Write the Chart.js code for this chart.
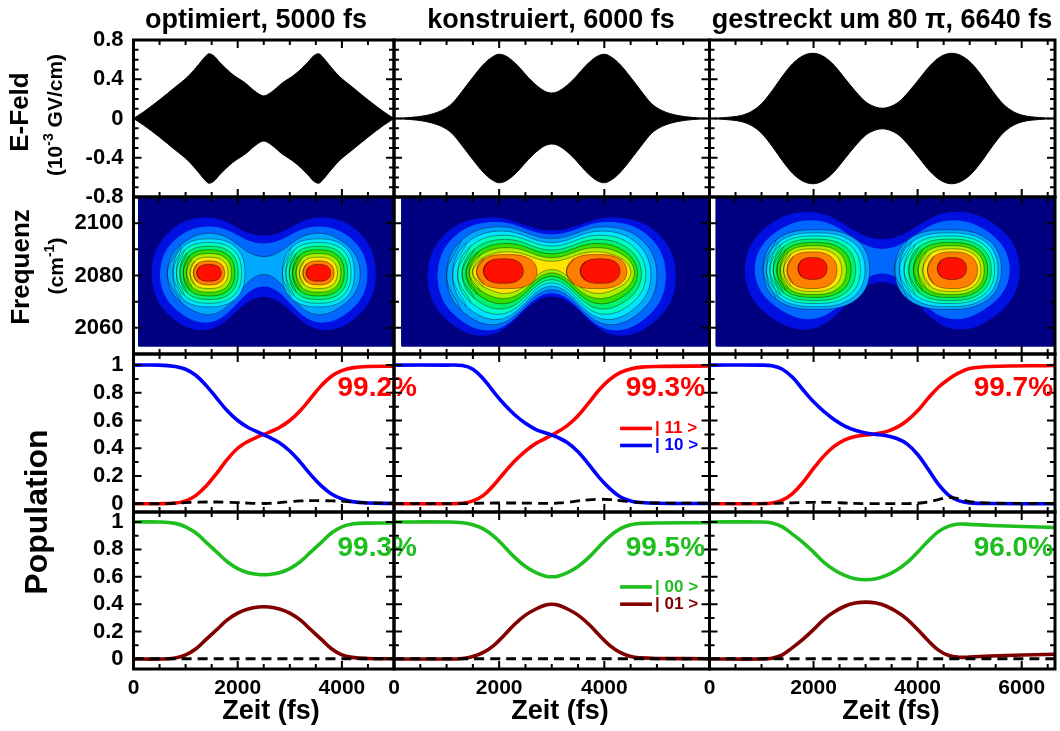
<!DOCTYPE html>
<html>
<head>
<meta charset="utf-8">
<script src="https://cdn.jsdelivr.net/npm/chart.js@4.4.1/dist/chart.umd.min.js"></script>
<style>
  body { margin: 0; background: #fff; }
  #wrap { position: relative; width: 1060px; height: 731px; }
  #wrap canvas { position: absolute; left: 0; top: 0; }
</style>
</head>
<body>
<div id="wrap"></div>
<script>
const FONT = "'Liberation Sans', Arial, Helvetica, sans-serif";
const W = 1060, H = 731;

// ---- data ----
const tMax = [5000, 6000, 6640];
const columnTitles = ['optimiert, 5000 fs', 'konstruiert, 6000 fs', 'gestreckt um 80 \u03c0, 6640 fs'];

// E-field envelope (10^-3 GV/cm)
const fieldT1 = [0, 200, 500, 800, 1050, 1250, 1350, 1450, 1550, 1650, 1900, 2150, 2350, 2500, 2650, 2850, 3100, 3350, 3450, 3550, 3650, 3750, 3950, 4200, 4500, 4800, 5000];
const fieldA1 = [0, 0.07, 0.19, 0.32, 0.43, 0.55, 0.615, 0.66, 0.635, 0.575, 0.45, 0.36, 0.27, 0.23, 0.27, 0.36, 0.45, 0.575, 0.635, 0.66, 0.615, 0.55, 0.43, 0.32, 0.19, 0.07, 0];
const fieldT2 = [0, 300, 600, 900, 1100, 1300, 1500, 1700, 1850, 2000, 2150, 2350, 2550, 2750, 2900, 3000, 3100, 3250, 3450, 3650, 3850, 4000, 4150, 4300, 4500, 4700, 4900, 5100, 5400, 5700, 6000];
const fieldA2 = [0, 0.01, 0.03, 0.08, 0.15, 0.28, 0.42, 0.55, 0.62, 0.655, 0.63, 0.54, 0.42, 0.32, 0.27, 0.26, 0.27, 0.32, 0.42, 0.54, 0.63, 0.655, 0.62, 0.55, 0.42, 0.28, 0.15, 0.08, 0.03, 0.01, 0];
const fieldT3 = [0, 300, 600, 800, 1000, 1200, 1400, 1600, 1800, 1990, 2200, 2400, 2600, 2800, 3000, 3200, 3320, 3440, 3640, 3840, 4040, 4240, 4440, 4650, 4840, 5040, 5240, 5440, 5640, 5840, 6040, 6340, 6640];
const fieldA3 = [0, 0.01, 0.03, 0.07, 0.15, 0.28, 0.43, 0.56, 0.64, 0.665, 0.63, 0.54, 0.41, 0.28, 0.17, 0.115, 0.105, 0.115, 0.17, 0.28, 0.41, 0.54, 0.63, 0.665, 0.64, 0.56, 0.43, 0.28, 0.15, 0.07, 0.03, 0.01, 0];

// spectrogram contour levels, outermost first
// joined rings: [tLeft, tRight, fLow, fHigh, waistLow, waistHigh]
// lobe rings:   [tLeft, tRight, fLow, fHigh]
const specStart = [100, 150, 130];
const specFreqLow = 2053, specFreqHigh = 2110;
const specWaist = [2500, 3000, 3320];
const specJoined1 = [[360, 4640, 2059.5, 2102, 2072, 2095], [520, 4480, 2062.5, 2098.5, 2076, 2092], [650, 4350, 2065.5, 2096, 2080.4, 2087.2]];
const specLeft1 = [[760, 2140, 2068, 2094], [825, 2075, 2069.4, 2092.6], [890, 2010, 2070.8, 2091.2], [955, 1945, 2072.2, 2089.8],
                   [1020, 1880, 2073.6, 2088.4], [1085, 1815, 2075, 2087], [1150, 1750, 2076.4, 2085.6], [1215, 1685, 2077.8, 2084.2]];
const specRight1 = [[2860, 4240, 2068, 2094], [2925, 4175, 2069.4, 2092.6], [2990, 4110, 2070.8, 2091.2], [3055, 4045, 2072.2, 2089.8],
                    [3120, 3980, 2073.6, 2088.4], [3185, 3915, 2075, 2087], [3250, 3850, 2076.4, 2085.6], [3315, 3785, 2077.8, 2084.2]];
const specJoined2 = [[650, 5350, 2057.5, 2102, 2072.1, 2097], [840, 5160, 2059.5, 2100.3, 2073.4, 2095.5], [1000, 5000, 2061.5, 2098.6, 2074.6, 2094.1],
                     [1115, 4885, 2063.5, 2097, 2075.9, 2092.6], [1210, 4790, 2065.5, 2095.4, 2077.2, 2091.2], [1295, 4705, 2067.5, 2093.8, 2078.4, 2089.7],
                     [1370, 4630, 2069.5, 2092.2, 2079.7, 2088.3], [1430, 4570, 2071.5, 2090.6, 2081, 2086.8], [1495, 4505, 2073.5, 2089, 2082.3, 2085.4]];
const specLeft2 = [[1570, 2720, 2075, 2088], [1700, 2460, 2077, 2086.4]];
const specRight2 = [[3280, 4430, 2075, 2088], [3540, 4300, 2077, 2086.4]];
const specJoined3 = [[690, 5950, 2060, 2104, 2077.7, 2093.7], [880, 5760, 2064, 2100.7, 2081, 2090]];
const specLeft3 = [[1030, 3080, 2067, 2097.5], [1095, 2990, 2068.1, 2096.3], [1160, 2900, 2069.3, 2095.1], [1225, 2810, 2070.4, 2093.9],
                   [1295, 2720, 2071.6, 2092.6], [1360, 2630, 2072.7, 2091.4], [1425, 2540, 2073.9, 2090.2], [1490, 2450, 2075, 2089], [1700, 2260, 2078.5, 2086.9]];
const specRight3 = [[3560, 5610, 2067, 2097.5], [3650, 5545, 2068.1, 2096.3], [3740, 5480, 2069.3, 2095.1], [3830, 5415, 2070.4, 2093.9],
                    [3920, 5345, 2071.6, 2092.6], [4010, 5280, 2072.7, 2091.4], [4100, 5215, 2073.9, 2090.2], [4190, 5150, 2075, 2089], [4380, 4940, 2078.5, 2086.9]];
const levelColors = ['#000080', '#0010e0', '#0068ff', '#00a8ff', '#00e4ff', '#00ffc0', '#00f070', '#30e000', '#a8f000', '#ffe400', '#ff8000', '#ff1000'];

// populations, initial state |10>
const popT1 = [0, 500, 800, 1000, 1200, 1400, 1600, 1800, 2000, 2200, 2400, 2600, 2800, 3000, 3200, 3400, 3600, 3800, 4000, 4200, 4500, 5000];
const pop11_1 = [0, 0, 0.005, 0.02, 0.06, 0.13, 0.22, 0.32, 0.40, 0.45, 0.485, 0.515, 0.55, 0.60, 0.67, 0.76, 0.85, 0.92, 0.96, 0.98, 0.99, 0.992];
const pop10_1 = [1, 1, 0.99, 0.97, 0.925, 0.85, 0.76, 0.67, 0.6, 0.55, 0.515, 0.48, 0.44, 0.38, 0.3, 0.21, 0.13, 0.07, 0.035, 0.015, 0.005, 0.001];
const leakA_1 = [0, 0, 0.003, 0.008, 0.01, 0.012, 0.012, 0.01, 0.008, 0.004, 0.002, 0.002, 0.008, 0.015, 0.02, 0.022, 0.022, 0.02, 0.018, 0.012, 0.006, 0.003];
const popT2 = [0, 1000, 1300, 1500, 1700, 1900, 2100, 2300, 2500, 2700, 2900, 3000, 3100, 3300, 3500, 3700, 3900, 4100, 4300, 4500, 4700, 5000, 6000];
const pop11_2 = [0, 0, 0.003, 0.02, 0.06, 0.135, 0.225, 0.31, 0.38, 0.435, 0.475, 0.495, 0.515, 0.565, 0.635, 0.725, 0.82, 0.895, 0.945, 0.972, 0.985, 0.99, 0.993];
const pop10_2 = [1, 1, 0.997, 0.97, 0.9, 0.805, 0.715, 0.64, 0.58, 0.535, 0.508, 0.495, 0.48, 0.44, 0.375, 0.285, 0.19, 0.11, 0.05, 0.02, 0.008, 0.003, 0.001];
const leakA_2 = [0, 0, 0, 0.002, 0.004, 0.005, 0.005, 0.005, 0.004, 0.003, 0.002, 0.002, 0.004, 0.01, 0.02, 0.028, 0.032, 0.03, 0.022, 0.013, 0.008, 0.005, 0.004];
const popT3 = [0, 1000, 1200, 1400, 1600, 1800, 2000, 2200, 2400, 2600, 2800, 3000, 3200, 3400, 3600, 3800, 4000, 4200, 4400, 4600, 4800, 5000, 5400, 6640];
const pop11_3 = [0, 0, 0.005, 0.025, 0.075, 0.155, 0.255, 0.345, 0.415, 0.46, 0.485, 0.495, 0.505, 0.52, 0.55, 0.6, 0.67, 0.76, 0.84, 0.9, 0.945, 0.975, 0.99, 0.997];
const pop10_3 = [1, 1, 0.995, 0.97, 0.91, 0.82, 0.735, 0.665, 0.605, 0.56, 0.53, 0.51, 0.5, 0.49, 0.47, 0.43, 0.355, 0.25, 0.14, 0.06, 0.02, 0.006, 0.001, 0];
const leakA_3 = [0, 0, 0.002, 0.004, 0.006, 0.008, 0.01, 0.01, 0.008, 0.005, 0.002, 0.001, 0.001, 0.001, 0.001, 0.001, 0.003, 0.012, 0.03, 0.045, 0.035, 0.015, 0.004, 0.002];

// populations, initial state |00>
const pop00_1 = [1, 1, 0.99, 0.965, 0.92, 0.85, 0.78, 0.71, 0.66, 0.63, 0.617, 0.617, 0.63, 0.66, 0.71, 0.78, 0.85, 0.92, 0.965, 0.985, 0.992, 0.993];
const pop01_1 = [0, 0, 0.008, 0.03, 0.075, 0.145, 0.215, 0.285, 0.335, 0.365, 0.38, 0.38, 0.365, 0.335, 0.285, 0.215, 0.145, 0.075, 0.03, 0.012, 0.004, 0.002];
const pop00_2 = [1, 1, 0.995, 0.98, 0.95, 0.895, 0.82, 0.74, 0.675, 0.63, 0.603, 0.6, 0.603, 0.63, 0.675, 0.74, 0.82, 0.895, 0.95, 0.98, 0.99, 0.993, 0.995];
const pop01_2 = [0, 0, 0.004, 0.018, 0.048, 0.1, 0.175, 0.255, 0.32, 0.365, 0.396, 0.4, 0.396, 0.365, 0.32, 0.255, 0.175, 0.1, 0.048, 0.018, 0.008, 0.004, 0.002];
const pop00_3 = [1, 1, 0.993, 0.965, 0.91, 0.85, 0.78, 0.705, 0.65, 0.61, 0.585, 0.578, 0.585, 0.61, 0.65, 0.705, 0.78, 0.86, 0.93, 0.97, 0.985, 0.983, 0.975, 0.96];
const pop01_3 = [0, 0, 0.005, 0.03, 0.085, 0.145, 0.215, 0.29, 0.345, 0.385, 0.408, 0.415, 0.408, 0.385, 0.345, 0.29, 0.215, 0.135, 0.065, 0.025, 0.013, 0.014, 0.022, 0.035];
const leakB = [0.002, 0.002];

const finalTop = ['99.2%', '99.3%', '99.7%'];
const finalBottom = ['99.3%', '99.5%', '96.0%'];

// tick labels
const xLabels = [[0, 2000, 4000], [0, 2000, 4000], [0, 2000, 4000, 6000]];
const fieldTicks = [-0.8, -0.4, 0, 0.4, 0.8];
const freqTicks = [2060, 2080, 2100];
const popTicks = [0, 0.2, 0.4, 0.6, 0.8, 1];

// ---- layout ----
const colLeft = [133.5, 394, 709.5];
const colRight = [394, 709.5, 1055];
const rowTop = [40, 197, 354, 512];
const rowBottom = [197, 354, 512, 669];
const Y_AXIS_W = 70, X_AXIS_H = 40;

const wrap = document.getElementById('wrap');

function pts(ts, vs) { return ts.map((t, i) => ({ x: t, y: vs[i] })); }
function steps(a, b, d) { const out = []; for (let v = a; v <= b + 1e-9; v += d) out.push(+v.toFixed(3)); return out; }

// closed outline; walk a little past the start so the spline stays round at the seam
function loop(ring) {
  return [ring[ring.length - 1], ...ring, ring[0], ring[1]].map(([x, y]) => ({ x, y }));
}
function lobeLoop([t0, t1, f0, f1]) {
  const tc = (t0 + t1) / 2, fc = (f0 + f1) / 2, a = (t1 - t0) / 2, b = (f1 - f0) / 2, k = 0.75;
  return loop([[t0, fc], [tc - k * a, fc + k * b], [tc, f1], [tc + k * a, fc + k * b],
               [t1, fc], [tc + k * a, fc - k * b], [tc, f0], [tc - k * a, fc - k * b]]);
}
function joinedLoop([t0, t1, f0, f1, w0, w1], tm) {
  const fc = (f0 + f1) / 2, la = (t0 + tm) / 2, lb = (t1 + tm) / 2, k = 0.72;
  const up = fc + k * (f1 - fc), dn = fc - k * (fc - f0);
  const dl = (1 - k) * (la - t0), dr = (1 - k) * (t1 - lb);
  return loop([[t0, fc], [t0 + dl, up], [la, f1], [tm, w1], [lb, f1], [t1 - dr, up],
               [t1, fc], [t1 - dr, dn], [lb, f0], [tm, w0], [la, f0], [t0 + dl, dn]]);
}
function shapeSet(data, level, tension) {
  return {
    data, fill: 'shape', backgroundColor: levelColors[level],
    borderColor: level >= 3 ? 'rgba(0,0,0,0.55)' : levelColors[level],
    borderWidth: level >= 3 ? 0.7 : 1, tension, pointRadius: 0
  };
}
function spectrogramSets(col) {
  const joined = [specJoined1, specJoined2, specJoined3][col];
  const left = [specLeft1, specLeft2, specLeft3][col];
  const right = [specRight1, specRight2, specRight3][col];
  const t0 = specStart[col], t1 = tMax[col];
  const sets = [shapeSet([[t0, specFreqLow], [t1, specFreqLow], [t1, specFreqHigh], [t0, specFreqHigh], [t0, specFreqLow]].map(([x, y]) => ({ x, y })), 0, 0)];
  joined.forEach((r, i) => sets.push(shapeSet(joinedLoop(r, specWaist[col]), i + 1, 0.4)));
  left.forEach((r, i) => sets.push(shapeSet(lobeLoop(r), joined.length + i + 1, 0.4)));
  right.forEach((r, i) => sets.push(shapeSet(lobeLoop(r), joined.length + i + 1, 0.4)));
  // first in the list is painted first
  sets.forEach((s, i) => { s.order = sets.length - i; });
  return sets;
}
function fieldSets(ts, amp) {
  const base = { borderColor: '#000', borderWidth: 1, pointRadius: 0, cubicInterpolationMode: 'monotone' };
  return [
    Object.assign({ data: pts(ts, amp), fill: '+1', backgroundColor: '#000' }, base),
    Object.assign({ data: pts(ts, amp.map(v => -v)), fill: false }, base)
  ];
}
function curve(ts, vs, color) {
  return { data: pts(ts, vs), borderColor: color, borderWidth: 3.6, pointRadius: 0, fill: false, tension: 0.4 };
}
function dashed(ts, vs) {
  return { data: pts(ts, vs), borderColor: '#000', borderWidth: 2.8, borderDash: [10, 6], pointRadius: 0, fill: false, tension: 0.4 };
}

function drawTexts(chart, items) {
  const ctx = chart.ctx;
  for (const it of items) {
    let x = it.x, y = it.y;
    if (it.t !== undefined) { x = chart.scales.x.getPixelForValue(it.t); y = chart.scales.y.getPixelForValue(it.v); }
    ctx.save();
    if (it.line) {
      ctx.strokeStyle = it.color;
      ctx.lineWidth = 3.6;
      ctx.beginPath();
      ctx.moveTo(chart.scales.x.getPixelForValue(it.line[0]), y);
      ctx.lineTo(chart.scales.x.getPixelForValue(it.line[1]), y);
      ctx.stroke();
    }
    const parts = it.parts || [{ s: it.text, size: it.size }];
    ctx.translate(x, y);
    if (it.rotate) ctx.rotate(it.rotate);
    ctx.fillStyle = it.color || '#000';
    ctx.textBaseline = 'middle';
    ctx.textAlign = 'left';
    let total = 0;
    const widths = parts.map(p => {
      ctx.font = `bold ${p.size}px ${FONT}`;
      const w = ctx.measureText(p.s).width;
      total += w;
      return w;
    });
    let cx = it.align === 'right' ? -total : it.align === 'left' ? 0 : -total / 2;
    parts.forEach((p, i) => {
      ctx.font = `bold ${p.size}px ${FONT}`;
      ctx.fillText(p.s, cx, p.dy || 0);
      cx += widths[i];
    });
    ctx.restore();
  }
}

function decor(spec) {
  return {
    id: 'decor',
    afterDatasetsDraw(chart) {
      const { ctx, chartArea: a, scales: { x, y } } = chart;
      ctx.save();
      ctx.strokeStyle = '#000';
      ctx.lineWidth = 2;
      ctx.beginPath();
      const tx = (vals, len) => vals.forEach(v => {
        const px = x.getPixelForValue(v);
        ctx.moveTo(px, a.bottom); ctx.lineTo(px, a.bottom - len);
        ctx.moveTo(px, a.top); ctx.lineTo(px, a.top + len);
      });
      const ty = (vals, len) => vals.forEach(v => {
        const py = y.getPixelForValue(v);
        ctx.moveTo(a.left, py); ctx.lineTo(a.left + len, py);
        ctx.moveTo(a.right, py); ctx.lineTo(a.right - len, py);
      });
      tx(spec.xMajor, 8); tx(spec.xMinor, 5);
      ty(spec.yMajor, 8); ty(spec.yMinor, 5);
      ctx.stroke();
      ctx.lineWidth = 3;
      ctx.strokeRect(a.left, a.top, a.right - a.left, a.bottom - a.top);
      ctx.restore();
    },
    afterDraw(chart) { drawTexts(chart, spec.texts || []); }
  };
}

function addPanel(row, col, datasets, yMin, yMax, yLabels, yMajor, yMinor, texts) {
  const canvas = document.createElement('canvas');
  canvas.width = W; canvas.height = H;
  wrap.appendChild(canvas);
  const showY = col === 0, showX = row === 3;
  const xAxis = {
    type: 'linear', min: 0, max: tMax[col], display: showX,
    grid: { display: false, drawTicks: false }, border: { display: false },
    afterBuildTicks: s => { s.ticks = xLabels[col].map(v => ({ value: v })); },
    ticks: { font: { family: FONT, size: 21, weight: 'bold' }, color: '#000', padding: 7, maxRotation: 0, autoSkip: false, callback: v => String(v) }
  };
  if (showX) xAxis.afterFit = s => { s.height = X_AXIS_H; };
  const yAxis = {
    type: 'linear', min: yMin, max: yMax, display: showY,
    grid: { display: false, drawTicks: false }, border: { display: false },
    afterBuildTicks: s => { s.ticks = yLabels.map(v => ({ value: v })); },
    ticks: { font: { family: FONT, size: 22, weight: 'bold' }, color: '#000', padding: 10, autoSkip: false, callback: v => String(v) }
  };
  if (showY) yAxis.afterFit = s => { s.width = Y_AXIS_W; };
  const xMajor = [0, 2000, 4000, 6000].filter(v => v <= tMax[col]);
  const xMinor = steps(500, tMax[col], 500).filter(v => v % 2000 !== 0);
  return new Chart(canvas, {
    type: 'line',
    data: { datasets },
    options: {
      responsive: false, animation: false, devicePixelRatio: 1, events: [],
      layout: { padding: {
        left: colLeft[col] - (showY ? Y_AXIS_W : 0), right: W - colRight[col],
        top: rowTop[row], bottom: H - rowBottom[row] - (showX ? X_AXIS_H : 0)
      } },
      plugins: { legend: { display: false }, tooltip: { enabled: false } },
      scales: { x: xAxis, y: yAxis }
    },
    plugins: [decor({ xMajor, xMinor, yMajor, yMinor, texts })]
  });
}

const titleX = [256, 551, 882];
const zeitX = [271, 560, 891];
const fields = [[fieldT1, fieldA1], [fieldT2, fieldA2], [fieldT3, fieldA3]];
const popT = [popT1, popT2, popT3];
const pop11 = [pop11_1, pop11_2, pop11_3], pop10 = [pop10_1, pop10_2, pop10_3], leakA = [leakA_1, leakA_2, leakA_3];
const pop00 = [pop00_1, pop00_2, pop00_3], pop01 = [pop01_1, pop01_2, pop01_3];
const labelT = [5440, 5915, 6602];
const RED = '#ff0000', BLUE = '#0000ff', GREEN = '#1ebe1e', DARKRED = '#800000';

const fieldMinor = steps(-0.7, 0.7, 0.1).filter(v => Math.abs(v * 10) % 4 !== 0);
const popMinor = [0.1, 0.3, 0.5, 0.7, 0.9];

// row 1: E-field
for (let c = 0; c < 3; c++) {
  const texts = [{ x: titleX[c], y: 21, text: columnTitles[c], size: 27 }];
  if (c === 0) {
    texts.push({ x: 21, y: 112, text: 'E-Feld', size: 26, rotate: -Math.PI / 2 });
    texts.push({ x: 56, y: 115, rotate: -Math.PI / 2, parts: [{ s: '(10', size: 21 }, { s: '-3', size: 14, dy: -7 }, { s: ' GV/cm)', size: 21 }] });
  }
  addPanel(0, c, fieldSets(fields[c][0], fields[c][1]), -0.8, 0.8, fieldTicks, fieldTicks, fieldMinor, texts);
}
// row 2: spectrogram
for (let c = 0; c < 3; c++) {
  const texts = [];
  if (c === 0) {
    texts.push({ x: 22, y: 267, text: 'Frequenz', size: 26, rotate: -Math.PI / 2 });
    texts.push({ x: 57, y: 266, rotate: -Math.PI / 2, parts: [{ s: '(cm', size: 21 }, { s: '-1', size: 14, dy: -7 }, { s: ')', size: 21 }] });
  }
  addPanel(1, c, spectrogramSets(c), 2050, 2110, freqTicks, freqTicks, [2070, 2090], texts);
}
// row 3: |10> -> |11>
for (let c = 0; c < 3; c++) {
  const t = popT[c];
  const texts = [{ t: labelT[c], v: 0.83, text: finalTop[c], size: 28, color: RED, align: 'right' }];
  if (c === 0) texts.push({ x: 38, y: 512, text: 'Population', size: 32, rotate: -Math.PI / 2 });
  if (c === 1) {
    texts.push({ t: 4965, v: 0.543, line: [4300, 4905], text: '| 11 >', size: 17, color: RED, align: 'left' });
    texts.push({ t: 4965, v: 0.42, line: [4300, 4905], text: '| 10 >', size: 17, color: BLUE, align: 'left' });
  }
  addPanel(2, c, [dashed(t, leakA[c]), curve(t, pop10[c], BLUE), curve(t, pop11[c], RED)],
    -0.06, 1.08, popTicks, popTicks, popMinor, texts);
}
// row 4: |00> -> |00>
for (let c = 0; c < 3; c++) {
  const t = popT[c];
  const texts = [{ t: labelT[c], v: 0.81, text: finalBottom[c], size: 28, color: GREEN, align: 'right' },
                 { x: zeitX[c], y: 712, text: 'Zeit (fs)', size: 27 }];
  if (c === 1) {
    texts.push({ t: 4965, v: 0.526, line: [4300, 4905], text: '| 00 >', size: 17, color: GREEN, align: 'left' });
    texts.push({ t: 4965, v: 0.40, line: [4300, 4905], text: '| 01 >', size: 17, color: DARKRED, align: 'left' });
  }
  addPanel(3, c, [dashed([0, tMax[c]], leakB), curve(t, pop01[c], DARKRED), curve(t, pop00[c], GREEN)],
    -0.073, 1.073, popTicks, popTicks, popMinor, texts);
}
</script>
</body>
</html>
